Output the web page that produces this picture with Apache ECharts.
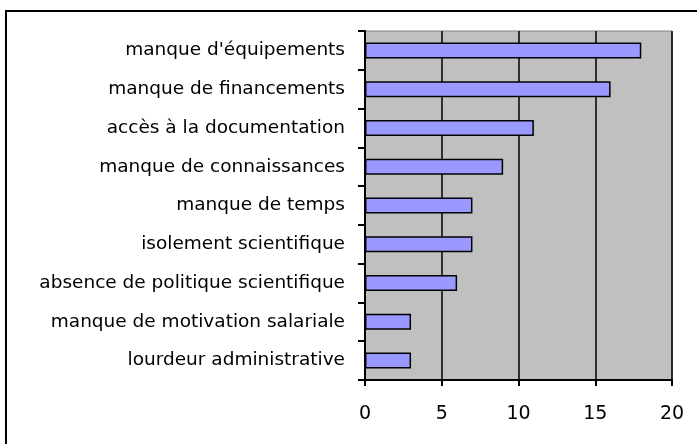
<!DOCTYPE html>
<html>
<head>
<meta charset="utf-8">
<script src="https://cdn.jsdelivr.net/npm/echarts@6/dist/echarts.min.js"></script>
<style>
  html, body { margin: 0; padding: 0; background: #fff; }
  .frame {
    position: absolute;
    left: 5px;
    top: 10px;
    width: 710px;
    height: 460px;
    border: 2px solid #000;
    box-sizing: border-box;
  }
  #chart { position: absolute; left: 0; top: 0; width: 697px; height: 444px; }
</style>
</head>
<body>
<div class="frame"></div>
<div id="chart"></div>
<script>
// categories top -> bottom
const categories = [
  "manque d'équipements",
  "manque de financements",
  "accès à la documentation",
  "manque de connaissances",
  "manque de temps",
  "isolement scientifique",
  "absence de politique scientifique",
  "manque de motivation salariale",
  "lourdeur administrative",
];
const values = [18, 16, 11, 9, 7, 7, 6, 3, 3];
const xTicks = { min: 0, max: 20, interval: 5 };

const myChart = echarts.init(document.getElementById("chart"), null, { renderer: "canvas" });

const option = {
  animation: false,
  textStyle: { fontFamily: "DejaVu Sans, sans-serif" },
  grid: {
    left: 365,
    right: 25,
    top: 31,
    bottom: 64,
    show: true,
    backgroundColor: "#C0C0C0",
    borderColor: "#808080",
    borderWidth: 1,
  },
  xAxis: {
    type: "value",
    min: xTicks.min,
    max: xTicks.max,
    interval: xTicks.interval,
    axisLine: { show: true, lineStyle: { color: "#000", width: 2 } },
    axisTick: { show: true, length: 6, lineStyle: { color: "#000", width: 2 } },
    splitLine: { show: true, lineStyle: { color: "#000", width: 1.5 } },
    axisLabel: { color: "#000", fontSize: 19, margin: 25 },
  },
  yAxis: {
    type: "category",
    inverse: true,
    data: categories,
    axisLine: { show: true, lineStyle: { color: "#000", width: 2 } },
    axisTick: { show: true, length: 7, lineStyle: { color: "#000", width: 2 } },
    axisLabel: { color: "#000", fontSize: 18.5, margin: 20 },
  },
  series: [
    {
      type: "bar",
      data: values,
      barWidth: 16,
      itemStyle: { color: "#9999FF", borderColor: "#000", borderWidth: 1.5 },
    },
  ],
};

myChart.setOption(option);
</script>
</body>
</html>
